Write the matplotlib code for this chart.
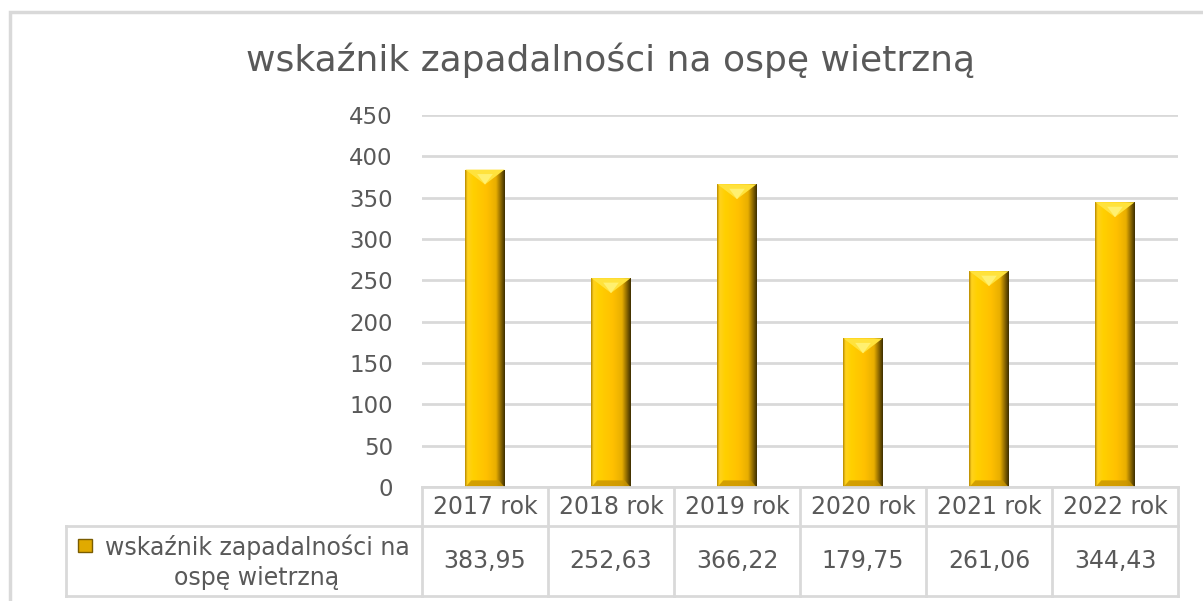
import matplotlib.pyplot as plt
import matplotlib.transforms as mtransforms
from matplotlib.patches import Rectangle, Polygon
from matplotlib.lines import Line2D
from matplotlib.colors import LinearSegmentedColormap
import numpy as np

plt.rcParams['font.family'] = ['DejaVu Sans']

title = 'wskaźnik zapadalności na ospę wietrzną'
series_name = 'wskaźnik zapadalności na\nospę wietrzną'
years = ['2017 rok', '2018 rok', '2019 rok', '2020 rok', '2021 rok', '2022 rok']
values = [383.95, 252.63, 366.22, 179.75, 261.06, 344.43]
labels = ['383,95', '252,63', '366,22', '179,75', '261,06', '344,43']

W, H = 1203, 601
fig = plt.figure(figsize=(W / 100, H / 100), dpi=100)
fx = lambda px: px / W
fy = lambda py: 1 - py / H

grey = '#D9D9D9'
txt = '#595959'

# plot area in pixels
L, R, T, B = 422, 1178, 115, 487
ax = fig.add_axes([fx(L), fy(B), fx(R - L), (B - T) / H])

x = np.arange(len(values))
bw = 0.31
bars = ax.bar(x, values, width=bw, color='#FFC000', zorder=2)

# horizontal shading gradient for the bevelled bars
grad = LinearSegmentedColormap.from_list('gold', [
    (0.0, '#B88A00'), (0.06, '#FFD21E'), (0.2, '#FFD000'), (0.55, '#FFC000'),
    (0.78, '#E8AE00'), (0.88, '#9C7400'), (1.0, '#3E2F00')])
g = np.linspace(0, 1, 200).reshape(1, -1)
for rect, v in zip(bars, values):
    x0 = rect.get_x()
    im = ax.imshow(g, cmap=grad, extent=(x0, x0 + bw, 0, v), aspect='auto',
                   zorder=3, interpolation='bilinear')
    im.set_clip_path(rect)
    d = 18
    xc = x0 + bw / 2
    ax.add_patch(Polygon([(x0, v), (x0 + bw, v), (xc, v - d)],
                         closed=True, facecolor='#FFE23C', edgecolor='none', zorder=4))
    ax.add_patch(Polygon([(x0 + bw * 0.3, v - d * 0.3), (x0 + bw * 0.7, v - d * 0.3), (xc, v - d)],
                         closed=True, facecolor='#FFF070', edgecolor='none', zorder=4))
    ax.add_patch(Polygon([(x0, 0), (x0 + bw, 0), (x0 + bw * 0.85, 8), (x0 + bw * 0.15, 8)],
                         closed=True, facecolor='#C89400', edgecolor='none', zorder=4, alpha=0.8))

ax.set_xlim(-0.5, len(values) - 0.5)
ax.set_ylim(0, 450)
ax.set_yticks(np.arange(0, 451, 50))
ax.set_xticks([])
ax.tick_params(axis='y', length=0, pad=21, labelsize=16.5, labelcolor=txt)
ax.grid(axis='y', color=grey, linewidth=2, zorder=0)
ax.set_axisbelow(True)
for s in ax.spines.values():
    s.set_visible(False)

# data table below the plot
tr = mtransforms.blended_transform_factory(ax.transData, fig.transFigure)
y0, y1, y2 = fy(487), fy(526), fy(596)
lk = dict(color=grey, linewidth=2, clip_on=False)
for xb in np.arange(len(values) + 1) - 0.5:
    fig.add_artist(Line2D([xb, xb], [y0, y2], transform=tr, **lk))
fig.add_artist(Line2D([-0.5, len(values) - 0.5], [y0, y0], transform=tr, **lk))
for yy in (y1, y2):
    fig.add_artist(Line2D([fx(66), fx(R)], [yy, yy], **lk))
fig.add_artist(Line2D([fx(66), fx(66)], [y1, y2], **lk))
for i, (yr, lb) in enumerate(zip(years, labels)):
    fig.text(i, (y0 + y1) / 2, yr, transform=tr, ha='center', va='center',
             fontsize=17, color=txt)
    fig.text(i, (y1 + y2) / 2, lb, transform=tr, ha='center', va='center',
             fontsize=17, color=txt)
fig.text(fx(257), fy(562), series_name, ha='center', va='center', fontsize=17,
         color=txt, linespacing=1.3)
fig.add_artist(Rectangle((fx(78), fy(552)), fx(14), 13 / H, facecolor='#E0AA00',
                         edgecolor='#7A5C00', linewidth=1))

# title and outer frame
fig.text(fx(611), fy(60), title, ha='center', va='center', fontsize=26, color=txt)
fig.add_artist(Rectangle((fx(10), -0.2), 1.2, fy(12) + 0.2, facecolor='none',
                         edgecolor=grey, linewidth=2.5))

fig.savefig('out.png', dpi=100)
